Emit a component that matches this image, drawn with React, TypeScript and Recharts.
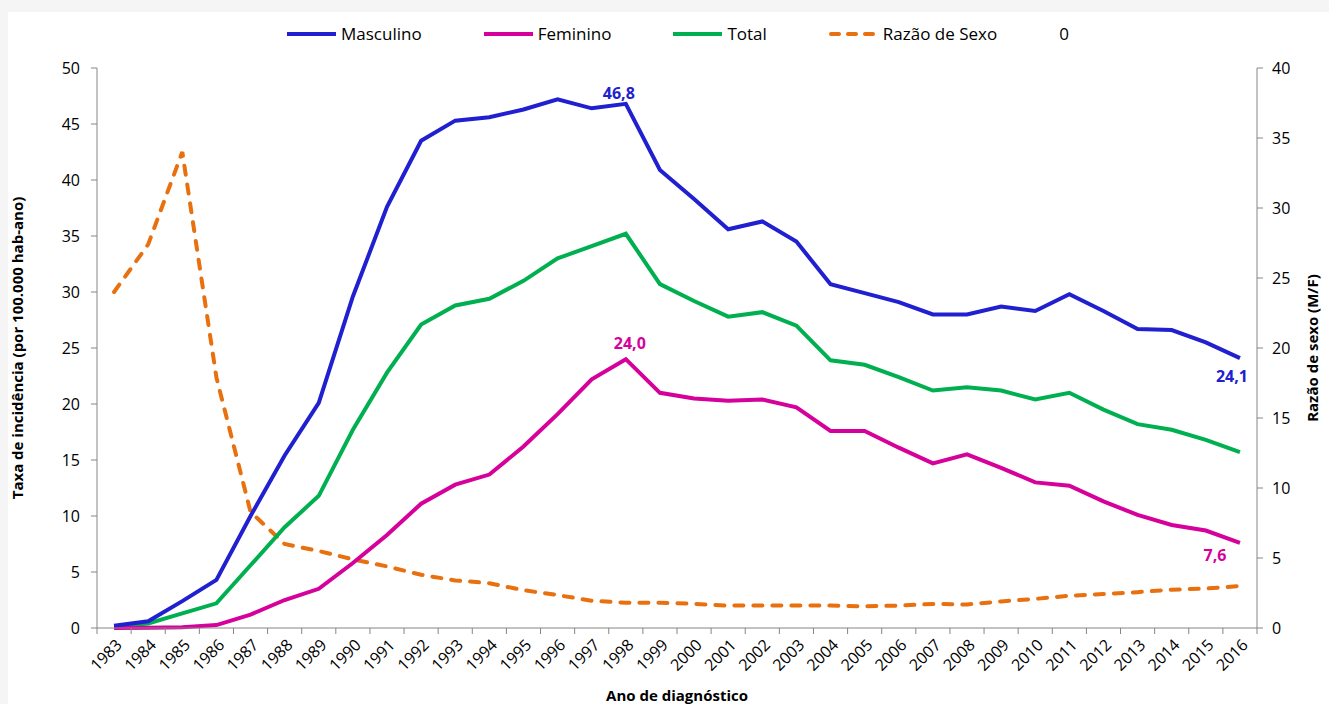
import { LineChart, Line, XAxis, YAxis, LabelList, Label } from 'recharts';

const years = [
  '1983', '1984', '1985', '1986', '1987', '1988', '1989', '1990', '1991', '1992',
  '1993', '1994', '1995', '1996', '1997', '1998', '1999', '2000', '2001', '2002',
  '2003', '2004', '2005', '2006', '2007', '2008', '2009', '2010', '2011', '2012',
  '2013', '2014', '2015', '2016',
];

const masculino = [
  0.2, 0.6, 2.4, 4.3, 10.0, 15.4, 20.1, 29.6, 37.6, 43.5,
  45.3, 45.6, 46.3, 47.2, 46.4, 46.8, 40.9, 38.3, 35.6, 36.3,
  34.5, 30.7, 29.9, 29.1, 28.0, 28.0, 28.7, 28.3, 29.8, 28.3,
  26.7, 26.6, 25.5, 24.1,
];

const feminino = [
  0.0, 0.02, 0.07, 0.26, 1.2, 2.5, 3.5, 5.8, 8.3, 11.1,
  12.8, 13.7, 16.2, 19.1, 22.2, 24.0, 21.0, 20.5, 20.3, 20.4,
  19.7, 17.6, 17.6, 16.1, 14.7, 15.5, 14.3, 13.0, 12.7, 11.3,
  10.1, 9.2, 8.7, 7.6,
];

const total = [
  0.13, 0.4, 1.3, 2.2, 5.6, 9.0, 11.8, 17.7, 22.8, 27.1,
  28.8, 29.4, 31.0, 33.0, 34.1, 35.2, 30.7, 29.2, 27.8, 28.2,
  27.0, 23.9, 23.5, 22.4, 21.2, 21.5, 21.2, 20.4, 21.0, 19.5,
  18.2, 17.7, 16.8, 15.7,
];

const razao = [
  24.0, 27.4, 34.0, 17.9, 8.3, 6.0, 5.5, 4.9, 4.4, 3.8,
  3.4, 3.2, 2.7, 2.35, 1.95, 1.8, 1.8, 1.73, 1.6, 1.6,
  1.6, 1.6, 1.55, 1.6, 1.72, 1.68, 1.9, 2.08, 2.3, 2.43,
  2.56, 2.74, 2.82, 3.0,
];

const leftTicks = [0, 5, 10, 15, 20, 25, 30, 35, 40, 45, 50];
const rightTicks = [0, 5, 10, 15, 20, 25, 30, 35, 40];

const legendNames = ['Masculino', 'Feminino', 'Total', 'Razão de Sexo', '0'];

// indices of the points that carry a value label
const masculinoLabelIdx = [15, 33];
const femininoLabelIdx = [15, 33];

const BLUE = '#2020d0';
const PINK = '#d6009b';
const GREEN = '#00b050';
const ORANGE = '#e8700f';
const AXIS = '#868686';
const FONT = '"Open Sans", "Noto Sans", sans-serif';

const data = years.map((year, i) => ({
  x: i,
  year,
  masculino: masculino[i],
  feminino: feminino[i],
  total: total[i],
  razao: razao[i],
}));

// tick marks sit between the years, labels on the years
const xTicks: number[] = [];
years.forEach((_, i) => {
  xTicks.push(i - 0.5);
  xTicks.push(i);
});
xTicks.push(years.length - 0.5);

const renderXTick = (props: any) => {
  const { x, y, payload } = props;
  const v = payload.value;
  if (!Number.isInteger(v)) {
    return <line x1={x} x2={x} y1={y} y2={y + 6} stroke={AXIS} strokeWidth={1} />;
  }
  return (
    <text
      transform={`translate(${x + 5},${y + 14}) rotate(-45)`}
      textAnchor="end"
      dy="0.35em"
      fontSize={16}
      fontFamily={FONT}
      fill="#000"
    >
      {years[v]}
    </text>
  );
};

const fmt = (v: number) => v.toFixed(1).replace('.', ',');

const makePointLabel = (color: string, indices: number[], offsets: number[][]) => (props: any) => {
  const { x, y, value, index } = props;
  const k = indices.indexOf(index);
  if (k < 0) return null;
  const [dx, dy] = offsets[k];
  return (
    <text
      x={x + dx}
      y={y + dy}
      fill={color}
      fontSize={16}
      fontWeight={700}
      fontFamily={FONT}
      textAnchor="middle"
    >
      {fmt(value)}
    </text>
  );
};

const leftTitle = (props: any) => {
  const { viewBox } = props;
  const cx = viewBox.x + 10;
  const cy = viewBox.y + viewBox.height / 2;
  return (
    <text
      transform={`translate(${cx},${cy}) rotate(-90)`}
      textAnchor="middle"
      dy="0.35em"
      fontSize={15}
      fontWeight={700}
      fontFamily={FONT}
      fill="#000"
    >
      Taxa de incidência (por 100.000 hab-ano)
    </text>
  );
};

const rightTitle = (props: any) => {
  const { viewBox } = props;
  const cx = viewBox.x + 56;
  const cy = viewBox.y + viewBox.height / 2;
  return (
    <text
      transform={`translate(${cx},${cy}) rotate(-90)`}
      textAnchor="middle"
      dy="0.35em"
      fontSize={15}
      fontWeight={700}
      fontFamily={FONT}
      fill="#000"
    >
      Razão de sexo (M/F)
    </text>
  );
};

const bottomTitle = (props: any) => {
  const { viewBox } = props;
  return (
    <text
      x={viewBox.x + viewBox.width / 2}
      y={viewBox.y + 68}
      textAnchor="middle"
      dy="0.35em"
      fontSize={15}
      fontWeight={700}
      fontFamily={FONT}
      fill="#000"
    >
      Ano de diagnóstico
    </text>
  );
};

const legendColors = [BLUE, PINK, GREEN, ORANGE, null];

const ChartLegend = () => (
  <div
    style={{
      position: 'absolute',
      left: 279,
      top: 10,
      display: 'flex',
      alignItems: 'center',
      gap: 62,
      fontFamily: FONT,
      fontSize: 17,
      color: '#000',
      whiteSpace: 'nowrap',
    }}
  >
    {legendNames.map((name, i) => {
      const c = legendColors[i];
      return (
        <div key={name} style={{ display: 'flex', alignItems: 'center' }}>
          {c && (
            <svg width={49} height={8} style={{ marginRight: 5 }}>
              <line
                x1={i === 3 ? 2 : 0}
                x2={i === 3 ? 47 : 49}
                y1={4}
                y2={4}
                stroke={c}
                strokeWidth={4}
                strokeDasharray={i === 3 ? '8 9' : undefined}
                strokeLinecap={i === 3 ? 'round' : 'butt'}
              />
            </svg>
          )}
          <span>{name}</span>
        </div>
      );
    })}
  </div>
);

const App = () => {
  return (
    <div
      style={{
        position: 'fixed',
        left: 0,
        top: 0,
        width: 1329,
        height: 704,
        background: '#f5f5f5',
        overflow: 'hidden',
        fontFamily: FONT,
      }}
    >
      <div
        style={{
          position: 'absolute',
          left: 8,
          top: 12,
          width: 1321,
          height: 692,
          background: '#fff',
        }}
      >
        <ChartLegend />
        <LineChart
          width={1321}
          height={692}
          data={data}
          margin={{ top: 56, right: 0, bottom: 0, left: 0 }}
        >
          <XAxis
            dataKey="x"
            type="number"
            domain={[-0.5, years.length - 0.5]}
            ticks={xTicks}
            interval={0}
            tickLine={false}
            tickSize={0}
            tickMargin={0}
            tick={renderXTick}
            axisLine={{ stroke: AXIS }}
            height={76}
          >
            <Label content={bottomTitle} />
          </XAxis>
          <YAxis
            yAxisId="left"
            domain={[0, 50]}
            ticks={leftTicks}
            interval={0}
            width={89}
            tickSize={6}
            tickMargin={11}
            axisLine={{ stroke: AXIS }}
            tickLine={{ stroke: AXIS }}
            tick={{ fill: '#000', fontSize: 16, fontFamily: FONT }}
          >
            <Label content={leftTitle} />
          </YAxis>
          <YAxis
            yAxisId="right"
            orientation="right"
            domain={[0, 40]}
            ticks={rightTicks}
            interval={0}
            width={72}
            tickSize={6}
            tickMargin={9}
            axisLine={{ stroke: AXIS }}
            tickLine={{ stroke: AXIS }}
            tick={{ fill: '#000', fontSize: 16, fontFamily: FONT }}
          >
            <Label content={rightTitle} />
          </YAxis>
          <Line
            yAxisId="right"
            dataKey="razao"
            stroke={ORANGE}
            strokeWidth={4}
            strokeDasharray="9 10"
            strokeLinecap="round"
            dot={false}
            activeDot={false}
            isAnimationActive={false}
          />
          <Line
            yAxisId="left"
            dataKey="total"
            stroke={GREEN}
            strokeWidth={4}
            dot={false}
            activeDot={false}
            isAnimationActive={false}
          />
          <Line
            yAxisId="left"
            dataKey="feminino"
            stroke={PINK}
            strokeWidth={4}
            dot={false}
            activeDot={false}
            isAnimationActive={false}
          >
            <LabelList
              dataKey="feminino"
              content={makePointLabel(PINK, femininoLabelIdx, [[4, -10], [-25, 18]])}
            />
          </Line>
          <Line
            yAxisId="left"
            dataKey="masculino"
            stroke={BLUE}
            strokeWidth={4}
            dot={false}
            activeDot={false}
            isAnimationActive={false}
          >
            <LabelList
              dataKey="masculino"
              content={makePointLabel(BLUE, masculinoLabelIdx, [[-7, -5], [-8, 24]])}
            />
          </Line>
        </LineChart>
      </div>
    </div>
  );
};

export default App;
